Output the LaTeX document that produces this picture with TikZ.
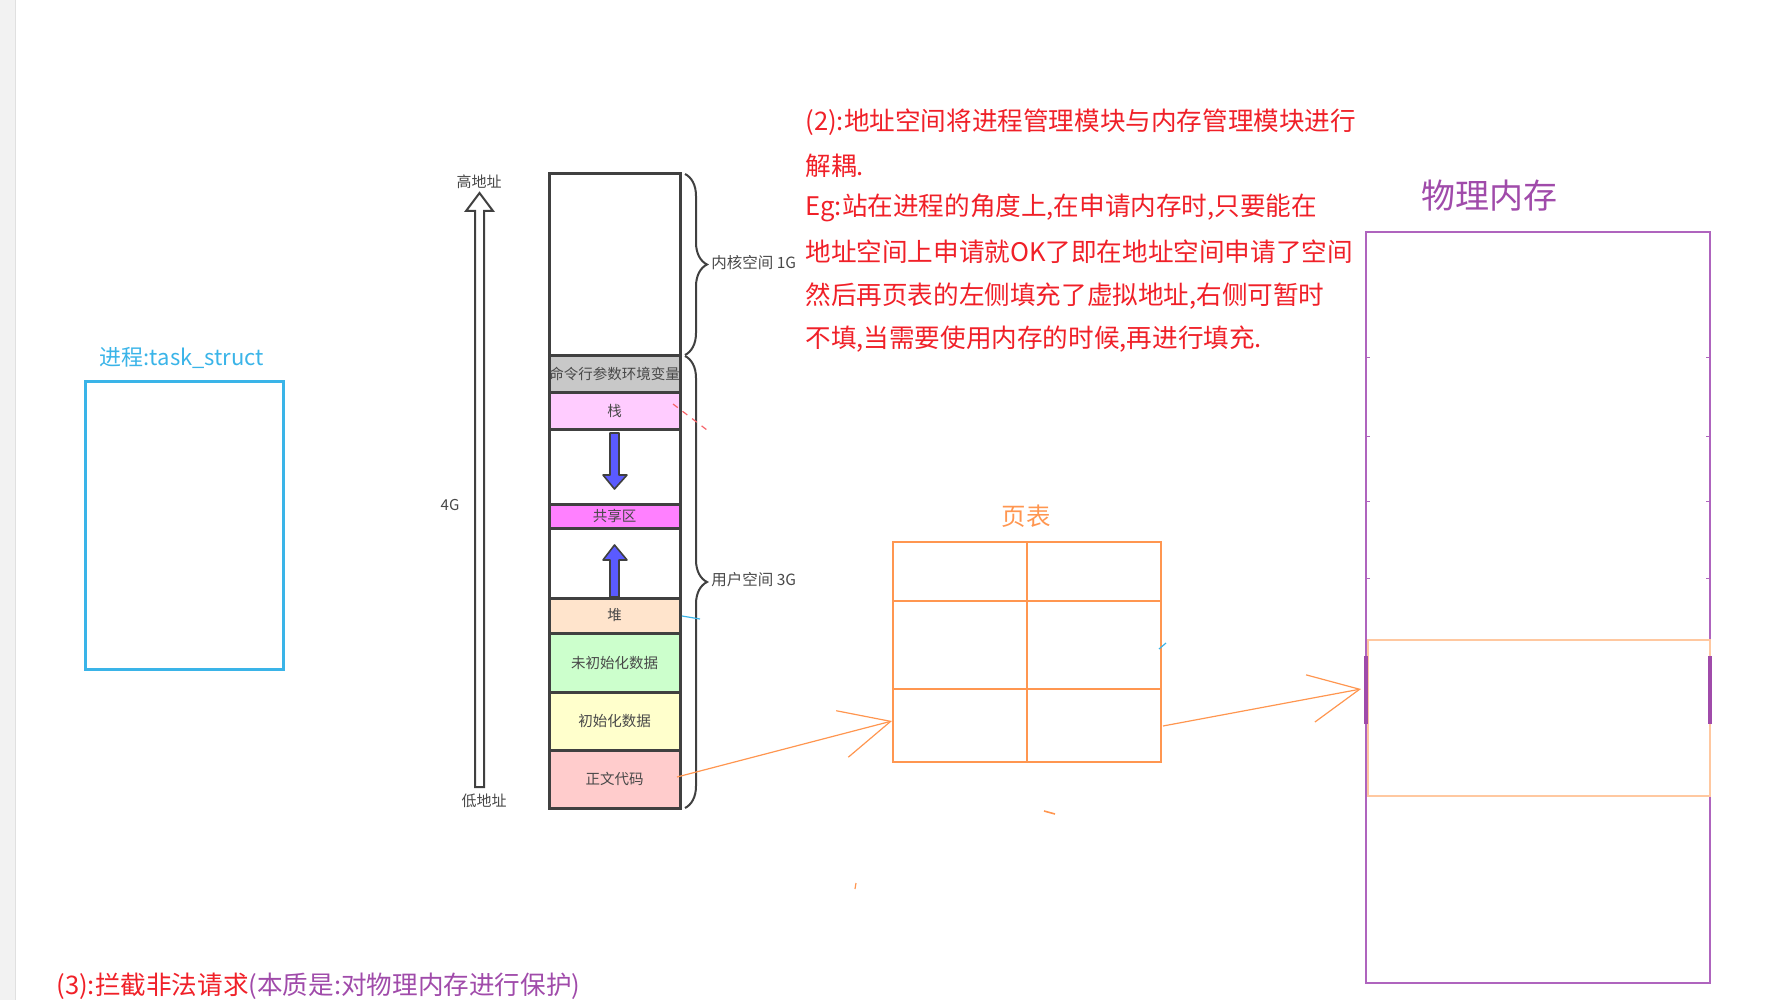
\documentclass[tikz,border=0pt]{standalone}
\usepackage{fontspec}
\setmainfont{Noto Sans CJK SC}
\usetikzlibrary{arrows.meta,decorations.pathreplacing}

\definecolor{linegray}{RGB}{64,64,64}
\definecolor{textgray}{RGB}{72,72,72}
\definecolor{notered}{RGB}{240,32,40}
\definecolor{taskblue}{RGB}{58,180,232}
\definecolor{tblorange}{RGB}{255,150,80}
\definecolor{pageorange}{RGB}{255,200,160}
\definecolor{mempurple}{RGB}{175,100,190}
\definecolor{titlepurple}{RGB}{160,75,170}
\definecolor{cmdgray}{RGB}{200,200,200}
\definecolor{stackpink}{RGB}{255,204,255}
\definecolor{sharedpink}{RGB}{255,128,255}
\definecolor{heappeach}{RGB}{255,228,204}
\definecolor{bssgreen}{RGB}{204,255,204}
\definecolor{datayellow}{RGB}{255,255,204}
\definecolor{codepink}{RGB}{255,204,204}
\definecolor{growblue}{RGB}{90,90,255}

\tikzset{
  seg/.style={draw=linegray,line width=1.5pt,minimum width=65.5pt,inner sep=0pt,
    text=textgray,font=\fontsize{7.25pt}{8pt}\selectfont},
  sidelabel/.style={text=textgray,anchor=west,inner sep=0pt,font=\fontsize{7.75pt}{9pt}\selectfont},
  addrlabel/.style={text=textgray,inner sep=0pt,font=\fontsize{7.5pt}{9pt}\selectfont},
  notetext/.style={text=notered,anchor=west,inner sep=0pt,font=\fontsize{12.8pt}{15pt}\selectfont},
  maparrow/.style={tblorange,line width=0.6pt,-{Straight Barb[length=25pt,width=24pt]}},
  growarrow/.style={fill=growblue,draw=linegray,line width=0.8pt,line join=round},
  bracestyle/.style={draw=linegray,line width=1pt,decorate,decoration={brace,amplitude=11pt}}
}

\begin{document}
\begin{tikzpicture}[x=0.5pt,y=-0.5pt]
\useasboundingbox (0,0) rectangle (1766,1000);
% left margin strip
\fill[black!5] (0,0) rectangle (15,1000);
\draw[black!12] (15,0) -- (15,1000);

% process
\node[text=taskblue,font=\fontsize{11pt}{13pt}\selectfont] (tasktitle) at (182,358) {进程:task\_struct};
\node[draw=taskblue,line width=1.5pt,minimum width=99pt,minimum height=144pt] (task) at (184,525) {};

% address arrow
\draw[linegray,line width=1pt] (475,787) -- (475,211) -- (466,211) -- (479.5,193)
    -- (493,211) -- (484,211) -- (484,787) -- cycle;
\node[addrlabel] (high) at (479,182) {高地址};
\node[addrlabel] (low) at (484,801) {低地址};
\node[addrlabel] (size) at (450,505) {4G};

% address space
\node[seg,minimum height=90.5pt] (kernel) at (614.5,264.5) {};
\node[seg,fill=cmdgray,minimum height=18.5pt] (cmd) at (614.5,373.5) {命令行参数环境变量};
\node[seg,fill=stackpink,minimum height=18.5pt] (stack) at (614.5,410.5) {栈};
\node[seg,minimum height=37.5pt] (gapa) at (614.5,466.5) {};
\node[seg,fill=sharedpink,minimum height=12pt] (shared) at (614.5,516) {共享区};
\node[seg,minimum height=35pt] (gapb) at (614.5,563) {};
\node[seg,fill=heappeach,minimum height=17.5pt] (heap) at (614.5,615.5) {堆};
\node[seg,fill=bssgreen,minimum height=29.5pt] (bss) at (614.5,662.5) {未初始化数据};
\node[seg,fill=datayellow,minimum height=29pt] (data) at (614.5,721) {初始化数据};
\node[seg,fill=codepink,minimum height=29pt] (code) at (614.5,779) {正文代码};

\draw[growarrow] (610,433) -- (610,475) -- (603,475) -- (614.5,489) -- (627,475) -- (619,475) -- (619,433) -- cycle;
\draw[growarrow] (610,597) -- (610,560) -- (603,560) -- (614.5,545) -- (627,560) -- (619,560) -- (619,597) -- cycle;

\draw[bracestyle] (685,174) -- (685,355);
\draw[bracestyle] (685,356) -- (685,808);
\node[sidelabel] (kspace) at (711,263) {内核空间 1G};
\node[sidelabel] (uspace) at (711,580) {用户空间 3G};

% notes
\node[notetext] (note1) at (805,122.5) {(2):地址空间将进程管理模块与内存管理模块进行};
\node[notetext] (note2) at (805,165.3) {解耦.};
\node[notetext] (note3) at (805,208.1) {Eg:站在进程的角度上,在申请内存时,只要能在};
\node[notetext] (note4) at (805,252) {地址空间上申请就OK了即在地址空间申请了空间};
\node[notetext] (note5) at (805,296) {然后再页表的左侧填充了虚拟地址,右侧可暂时};
\node[notetext] (note6) at (805,338.8) {不填,当需要使用内存的时候,再进行填充.};
\node[notetext] (note7) at (56,986) {(3):拦截非法请求\textcolor{titlepurple}{(本质是:对物理内存进行保护)}};

% page table
\node[text=tblorange,font=\fontsize{12.25pt}{14pt}\selectfont] (pttitle) at (1026,516) {页表};
\node[draw=tblorange,line width=1pt,minimum width=134pt,minimum height=110pt,inner sep=0pt] (pt) at (1027,652) {};
\draw[tblorange,line width=1pt] (pt.north) -- (pt.south);
\draw[tblorange,line width=1pt] ([yshift=-30pt]pt.north west) -- ([yshift=-30pt]pt.north east);
\draw[tblorange,line width=1pt] ([yshift=-74pt]pt.north west) -- ([yshift=-74pt]pt.north east);

% physical memory
\node[text=titlepurple,font=\fontsize{17pt}{19pt}\selectfont] (pmtitle) at (1489,196) {物理内存};
\node[draw=mempurple,line width=1pt,minimum width=172pt,minimum height=375.5pt,inner sep=0pt] (pm) at (1538,607.5) {};
\node[draw=pageorange,line width=1pt,minimum width=171pt,minimum height=78pt,inner sep=0pt] (frame) at (1539,718) {};
\draw[titlepurple,line width=1.6pt] (1366,656) -- (1366,724);
\draw[titlepurple,line width=1.6pt] (1710,656) -- (1710,724);
\foreach \y in {357,436,501,578} {
  \draw[mempurple,line width=0.5pt] (1366,\y) -- (1370,\y);
  \draw[mempurple,line width=0.5pt] (1706,\y) -- (1710,\y);
}

% mapping
\coordinate (codeout) at (677,777);
\coordinate (ptin) at (892,721);
\coordinate (ptout) at (1163,726);
\coordinate (pmin) at (1361,689);
\draw[maparrow] (codeout) -- (ptin);
\draw[maparrow] (ptout) -- (pmin);

% stray marks
\draw[notered!70,dashed,line width=0.6pt] (673,404) -- (707,430);
\draw[taskblue,line width=0.6pt] (682,616) -- (700,619);
\draw[taskblue,line width=0.6pt] (1159,649) -- (1166,643);
\draw[tblorange,line width=0.8pt] (1044,811) -- (1055,814);
\draw[tblorange,line width=0.6pt] (856,883) -- (855,889);
\end{tikzpicture}
\end{document}
